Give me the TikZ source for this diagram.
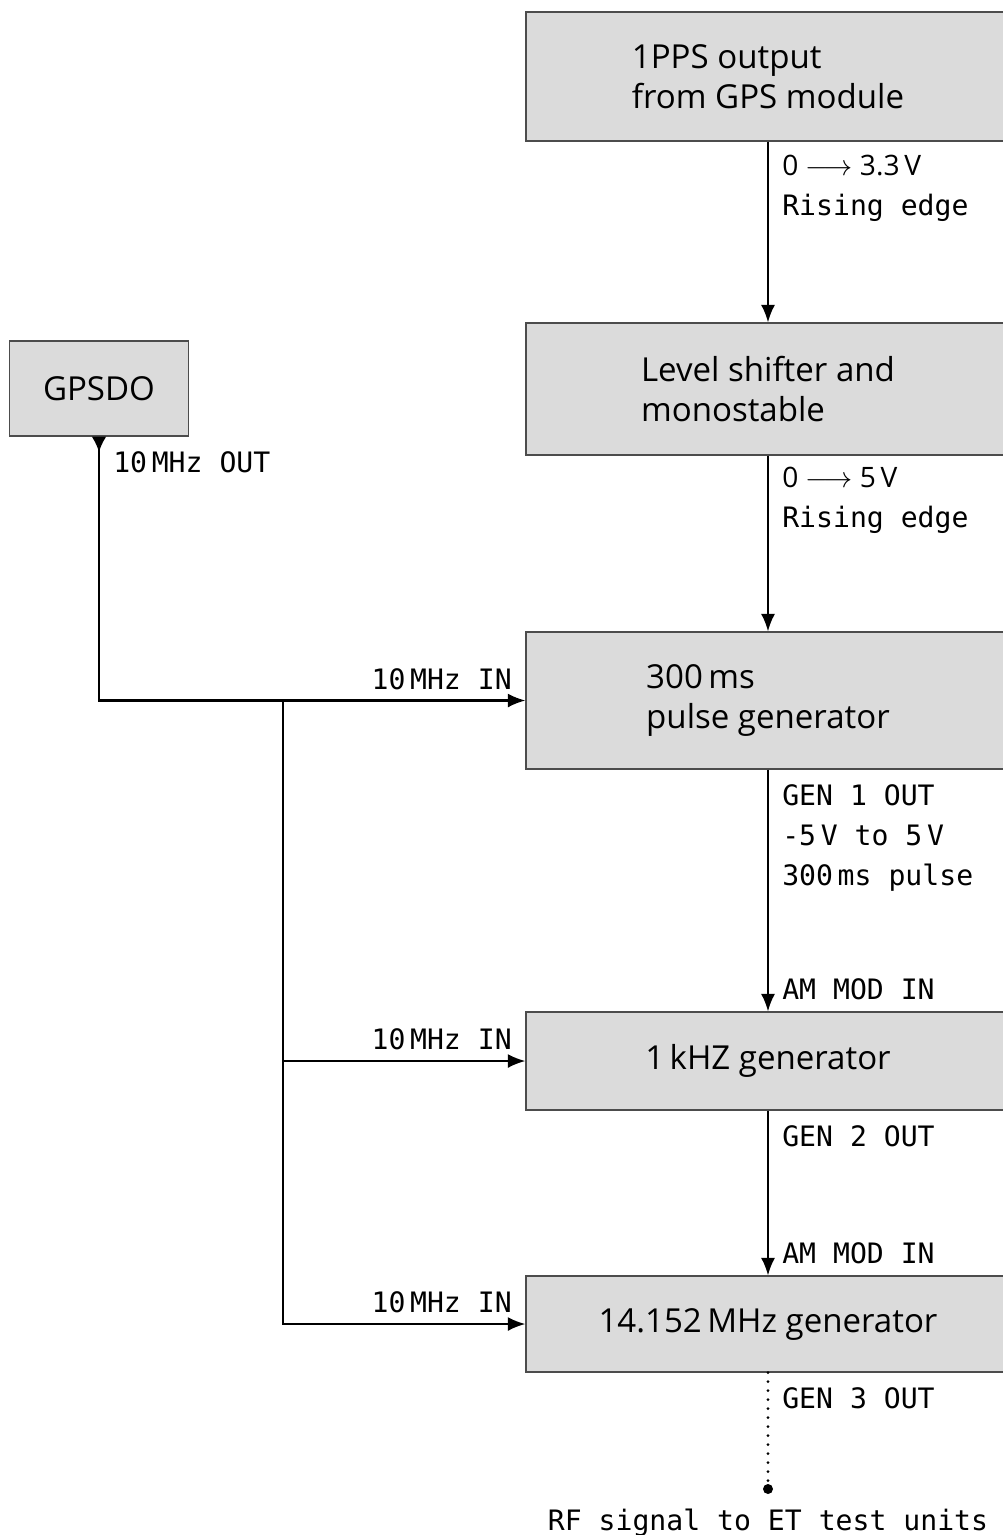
\documentclass[tikz,border=0pt]{standalone}
\usepackage{fontspec}
\setmainfont{Open Sans}
\setmonofont{DejaVu Sans Mono}
\usetikzlibrary{arrows.meta}

\begin{document}
\begin{tikzpicture}[x=0.025cm,y=-0.025cm,
    block/.style={draw=black!70,fill=black!14,line width=0.8pt,
        minimum width=12.1cm,align=left,
        font=\fontsize{23.5}{28.4}\selectfont},
    lbl/.style={inner sep=0pt,align=left,
        font=\ttfamily\fontsize{20}{28.4}\selectfont},
    sig/.style={line width=1.5pt,-{Latex[length=12.5pt,width=10pt]}}]
    \useasboundingbox (0,0) rectangle (1003,1535);

    % blocks
    \node[block,minimum height=3.225cm] (pps) at (768,76.5) {1PPS output\\from GPS module};
    \node[block,minimum height=3.3cm] (shifter) at (768,389) {Level shifter and\\monostable};
    \node[block,minimum height=3.425cm] (pulsegen) at (768,700.5) {300\,ms\\pulse generator};
    \node[block,minimum height=2.45cm] (khzgen) at (768,1061) {1\,kHZ generator};
    \node[block,minimum height=2.4cm] (rfgen) at (768,1324) {14.152\,MHz generator};
    \node[block,minimum width=4.475cm,minimum height=2.375cm] (gpsdo) at (99,388.5) {GPSDO};

    % signals down the chain
    \draw[sig] (pps) -- (shifter);
    \draw[sig] (shifter) -- (pulsegen);
    \draw[sig] (pulsegen) -- (khzgen);
    \draw[sig] (khzgen) -- (rfgen);
    \coordinate (rfout) at (768,1489);
    \draw[line width=2.2pt,line cap=round,dash pattern=on 0pt off 6.4pt] (rfgen) -- (rfout);
    \fill (rfout) circle (5);

    % 10 MHz reference
    \coordinate (split) at (283,700.5);
    \draw[sig,{Latex[reversed,length=11pt,width=10.5pt]}-{Latex[length=12.5pt,width=10pt]}] (gpsdo) |- (pulsegen);
    \draw[sig] (split) |- (rfgen);
    \draw[sig] (split |- khzgen) -- (khzgen);

    % labels
    \node[lbl,anchor=north west] (ppslbl) at (782,155) {{\rmfamily 0 $\longrightarrow$ 3.3\,V}\\Rising edge};
    \node[lbl,anchor=north west] (shiftlbl) at (782,467) {{\rmfamily 0 $\longrightarrow$ 5\,V}\\Rising edge};
    \node[lbl,anchor=north west] (gen1lbl) at (782,784) {GEN 1 OUT\\-5\,V to 5\,V\\300\,ms pulse};
    \node[lbl,anchor=north west] (am1lbl) at (782,978) {AM MOD IN};
    \node[lbl,anchor=north west] (gen2lbl) at (782,1125) {GEN 2 OUT};
    \node[lbl,anchor=north west] (am2lbl) at (782,1242) {AM MOD IN};
    \node[lbl,anchor=north west] (gen3lbl) at (782,1387) {GEN 3 OUT};
    \node[lbl,anchor=north] (rflbl) at (768,1509) {RF signal to ET test units};
    \node[lbl,anchor=north west] (outlbl) at (113,451) {10\,MHz OUT};
    \node[lbl,anchor=north east] (in1lbl) at (512,668) {10\,MHz IN};
    \node[lbl,anchor=north east] (in2lbl) at (512,1028) {10\,MHz IN};
    \node[lbl,anchor=north east] (in3lbl) at (512,1291) {10\,MHz IN};
\end{tikzpicture}
\end{document}
